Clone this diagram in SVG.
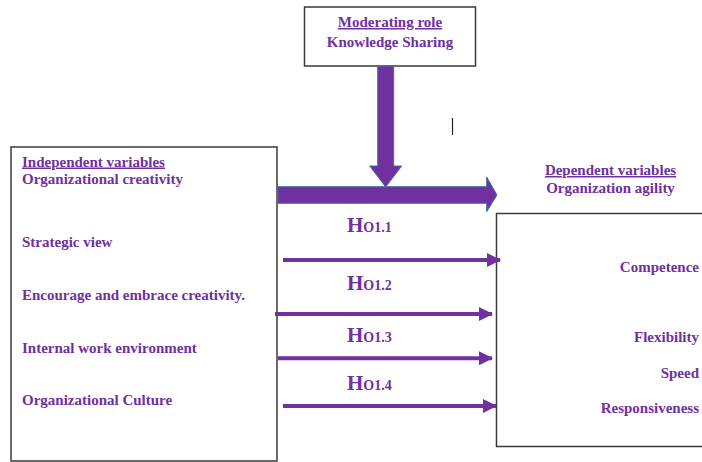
<svg xmlns="http://www.w3.org/2000/svg" width="702" height="462" viewBox="0 0 702 462">
<defs>
<style>
.box{fill:#fff;stroke:#3a3a3a;stroke-width:1.5}
.t{font-family:"Liberation Serif","Times New Roman",serif;font-weight:bold;font-size:15px;fill:#7030A0}
.u{text-decoration:underline}
.h{font-family:"Liberation Serif","Times New Roman",serif;font-weight:bold;font-size:21px;fill:#7030A0}
.hs{font-size:14px}
.thin{stroke:#7030A0;stroke-width:4;fill:none}
.big{fill:#7030A0;stroke:#41719C;stroke-width:1}
</style>
<marker id="ah" viewBox="0 0 14 14" refX="13" refY="7" markerWidth="14" markerHeight="14" markerUnits="userSpaceOnUse" orient="auto">
<path d="M0,0 L14,7 L0,14 Z" fill="#7030A0"/>
</marker>
</defs>
<rect width="702" height="462" fill="#fff"/>

<g id="moderator">
<rect class="box" x="304.5" y="7" width="171" height="59"/>
<text class="t u" x="390" y="27" text-anchor="middle">Moderating role</text>
<text class="t" x="390" y="47" text-anchor="middle">Knowledge Sharing</text>
</g>

<g id="independent">
<rect class="box" x="11" y="147" width="266" height="314"/>
<text class="t u" x="22" y="166.5">Independent variables</text>
<text class="t" x="22" y="183.5">Organizational creativity</text>
<text class="t" x="22" y="246.5">Strategic view</text>
<text class="t" x="22" y="300">Encourage and embrace creativity.</text>
<text class="t" x="22" y="352.5">Internal work environment</text>
<text class="t" x="22" y="405">Organizational Culture</text>
</g>

<g id="dependent">
<text class="t u" x="610.5" y="175" text-anchor="middle">Dependent variables</text>
<text class="t" x="610.5" y="192.5" text-anchor="middle">Organization agility</text>
<rect class="box" x="496.5" y="213.5" width="215" height="233"/>
<text class="t" x="699" y="271.5" text-anchor="end">Competence</text>
<text class="t" x="699" y="341.5" text-anchor="end">Flexibility</text>
<text class="t" x="699" y="377.5" text-anchor="end">Speed</text>
<text class="t" x="699" y="412.5" text-anchor="end">Responsiveness</text>
</g>

<g id="connectors">
<path class="big" d="M377.7,66 L393.7,66 L393.7,166 L401.7,166 L385.7,187 L369.7,166 L377.7,166 Z"/>
<path class="big" d="M278,186.7 L486.7,186.7 L486.7,177 L497,195 L486.7,211.7 L486.7,203.3 L278,203.3 Z"/>
<line class="thin" x1="283" y1="260" x2="500" y2="260" marker-end="url(#ah)"/>
<line class="thin" x1="275" y1="314" x2="492" y2="314" marker-end="url(#ah)"/>
<line class="thin" x1="278" y1="358.3" x2="492" y2="358.3" marker-end="url(#ah)"/>
<line class="thin" x1="283" y1="406" x2="496" y2="406" marker-end="url(#ah)"/>
</g>

<g id="labels">
<text class="h" x="347" y="232">H<tspan class="hs">O1.1</tspan></text>
<text class="h" x="347" y="290">H<tspan class="hs">O1.2</tspan></text>
<text class="h" x="347" y="342">H<tspan class="hs">O1.3</tspan></text>
<text class="h" x="347" y="390">H<tspan class="hs">O1.4</tspan></text>
</g>

<line x1="452.5" y1="118" x2="452.5" y2="135" stroke="#222" stroke-width="1.2"/>
</svg>
